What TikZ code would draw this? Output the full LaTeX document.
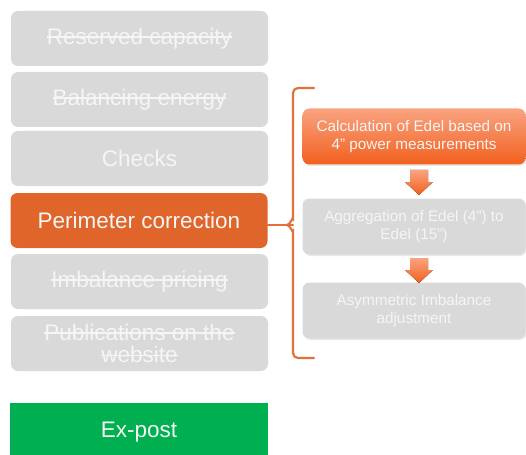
\documentclass[tikz,border=0pt]{standalone}
\usepackage{fontspec}
\setmainfont{Liberation Sans}
\usepackage{tikz}
\usetikzlibrary{shadows}
\definecolor{boxgray}{RGB}{217, 217, 217}
\definecolor{boxtext}{RGB}{245, 245, 245}
\definecolor{perimorange}{RGB}{224, 101, 42}
\definecolor{braceorange}{RGB}{226, 112, 58}
\definecolor{stepdark}{RGB}{242, 96, 30}
\definecolor{steplight}{RGB}{249, 163, 128}
\definecolor{expostgreen}{RGB}{0, 176, 80}
\newsavebox{\strikebox}
\newcommand{\crossout}[1]{\sbox{\strikebox}{#1}%
  \rlap{\raisebox{0.3em}{\rule{\wd\strikebox}{1.4pt}}}\usebox{\strikebox}}

\tikzset{
  phasebox/.style={rounded corners=7pt, minimum width=257pt, minimum height=55pt,
    inner sep=0pt, align=center, text=boxtext, font=\fontsize{22.5}{22.5}\selectfont},
  stepbox/.style={rounded corners=7pt, minimum width=223pt, minimum height=56pt,
    inner sep=0pt, align=center, text=boxtext, font=\fontsize{15.3}{18}\selectfont,
    drop shadow={opacity=0.18, shadow xshift=1pt, shadow yshift=-1.5pt}},
  bracepen/.style={braceorange, line width=2.2pt, line cap=round},
  downarrow/.style={top color=steplight, bottom color=stepdark, draw=none},
}

\begin{document}
\begin{tikzpicture}[x=1pt, y=-1pt]
  \useasboundingbox (0,0) rectangle (526,454);
  \clip (0,0) rectangle (526,454);

  % left column
  \node[phasebox, fill=boxgray] (reserved) at (139.5,38.5) {\crossout{Reserved  capacity}};
  \node[phasebox, fill=boxgray] (balancing) at (139.5,99.5) {\crossout{Balancing energy}};
  \node[phasebox, fill=boxgray] (checks) at (139.5,158.5) {Checks};
  \node[phasebox, fill=perimorange] (perim) at (139,220.5) {Perimeter correction};
  \node[phasebox, fill=boxgray] (pricing) at (139.5,281.5) {\crossout{Imbalance pricing}};
  \node[phasebox, fill=boxgray] (publ) at (139.5,343.5) {\crossout{Publications on the}\\\crossout{website}};
  \node[phasebox, rounded corners=0pt, minimum width=258pt, minimum height=58pt,
        fill=expostgreen] (expost) at (139,432) {Ex-post};

  % brace
  \coordinate (bracemid) at (293,225);
  \draw[bracepen] (314,88) -- (298,88) to[out=180,in=90] (293,93) -- (293,219)
    to[out=90,in=0] (287,225) to[out=0,in=-90] (293,231) -- (293,353)
    to[out=-90,in=180] (298,358) -- (314,358);
  \draw[bracepen] (perim.east |- bracemid) -- (bracemid);

  % right column
  \node[stepbox, top color=steplight, bottom color=stepdark] (calc) at (414,136.5)
    {Calculation of Edel based on\\4” power measurements};
  \node[stepbox, fill=boxgray] (aggr) at (414,226.5)
    {Aggregation of Edel (4”) to\\Edel (15”)};
  \node[stepbox, fill=boxgray] (asym) at (414,310.5)
    {Asymmetric Imbalance\\adjustment};

  \fill[downarrow] (410,170) -- (428,170) -- (428,182) -- (433,182) -- (419,195)
    -- (405,182) -- (410,182) -- cycle;
  \fill[downarrow] (410,258) -- (428,258) -- (428,270) -- (433,270) -- (419,283)
    -- (405,270) -- (410,270) -- cycle;
\end{tikzpicture}
\end{document}
